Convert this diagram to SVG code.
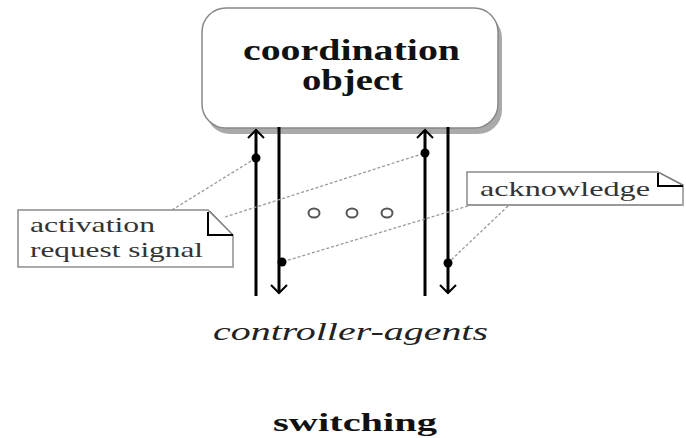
<svg xmlns="http://www.w3.org/2000/svg" width="686" height="438" viewBox="0 0 686 438">
<style>
.bold{font-weight:bold;fill:#111}
.lbl{fill:#333}
.ital{font-style:italic;fill:#222}
.flow{stroke:#000;stroke-width:3;fill:none}
.lead{stroke:#9a9a9a;stroke-width:1.3;stroke-dasharray:3 2;fill:none}
.note{fill:#fff;stroke:#8a8a8a;stroke-width:1.5}
.fold{fill:none;stroke:#000;stroke-width:2}
.foldd{fill:none;stroke:#777;stroke-width:1}
.dot{fill:#000}
.circ{fill:none;stroke:#555;stroke-width:2}
</style>
<defs>
<marker id="chev" viewBox="-12 -12 24 24" markerUnits="userSpaceOnUse" markerWidth="24" markerHeight="24" refX="0" refY="0" orient="auto">
<path d="M -8 -8 L 0 0 L -8 8" fill="none" stroke="#000" stroke-width="2"/>
</marker>
</defs>
<rect width="686" height="438" fill="#fff"/>
<g id="coordination-object" font-family="Liberation Serif, DejaVu Serif, serif">
<rect x="206" y="14" width="296" height="120" rx="24" fill="#aaa"/>
<rect x="202" y="8" width="296" height="120" rx="24" fill="#fff" stroke="#888" stroke-width="1.5"/>
<text class="bold" x="243" y="60" font-size="30" textLength="217" lengthAdjust="spacingAndGlyphs">coordination</text>
<text class="bold" x="302" y="90" font-size="30" textLength="101" lengthAdjust="spacingAndGlyphs">object</text>
</g>
<g id="connectors">
<line class="flow" x1="256" y1="296" x2="256" y2="130" marker-end="url(#chev)"/>
<line class="flow" x1="279" y1="127" x2="279" y2="293" marker-end="url(#chev)"/>
<line class="flow" x1="425" y1="296" x2="425" y2="130" marker-end="url(#chev)"/>
<line class="flow" x1="448" y1="127" x2="448" y2="293" marker-end="url(#chev)"/>
<line class="lead" x1="172" y1="210" x2="256" y2="158"/>
<line class="lead" x1="225" y1="217" x2="425" y2="153"/>
<line class="lead" x1="468" y1="206" x2="282" y2="262"/>
<line class="lead" x1="508" y1="206" x2="448" y2="263"/>
<circle class="dot" cx="256" cy="158" r="4.5"/>
<circle class="dot" cx="425" cy="153" r="4.5"/>
<circle class="dot" cx="282" cy="262" r="4.5"/>
<circle class="dot" cx="448" cy="263" r="4.5"/>
</g>
<g id="ellipsis">
<ellipse class="circ" cx="314" cy="213" rx="5.5" ry="4.5"/>
<ellipse class="circ" cx="352" cy="213" rx="5.5" ry="4.5"/>
<ellipse class="circ" cx="387" cy="213" rx="5.5" ry="4.5"/>
</g>
<g id="note-activation" font-family="Liberation Serif, DejaVu Serif, serif">
<path class="note" d="M 18 210 L 208 210 L 233 235 L 233 267 L 18 267 Z"/>
<line x1="233" y1="236" x2="233" y2="268" stroke="#aaa" stroke-width="2"/>
<line x1="19" y1="267" x2="234" y2="267" stroke="#aaa" stroke-width="2"/>
<path class="fold" d="M 208 212 L 208 235 L 233 235"/>
<line class="foldd" x1="210" y1="211" x2="232" y2="234"/>
<text class="lbl" x="30" y="232" font-size="22" textLength="125" lengthAdjust="spacingAndGlyphs">activation</text>
<text class="lbl" x="30" y="257" font-size="22" textLength="173" lengthAdjust="spacingAndGlyphs">request signal</text>
</g>
<g id="note-acknowledge" font-family="Liberation Serif, DejaVu Serif, serif">
<path class="note" d="M 467 172 L 658 172 L 683 185 L 683 205 L 467 205 Z"/>
<line x1="468" y1="205" x2="684" y2="205" stroke="#999" stroke-width="2"/>
<line x1="683" y1="186" x2="683" y2="206" stroke="#aaa" stroke-width="2"/>
<path class="fold" d="M 658 173 L 658 186 L 683 186"/>
<line class="foldd" x1="660" y1="173" x2="682" y2="185"/>
<text class="lbl" x="480" y="196" font-size="22" textLength="170" lengthAdjust="spacingAndGlyphs">acknowledge</text>
</g>
<g id="controller-agents" font-family="Liberation Serif, DejaVu Serif, serif">
<text class="ital" x="213" y="340" font-size="26" textLength="275" lengthAdjust="spacingAndGlyphs">controller-agents</text>
</g>
<g id="switching" font-family="Liberation Serif, DejaVu Serif, serif">
<text class="bold" x="273" y="431" font-size="25" textLength="164" lengthAdjust="spacingAndGlyphs">switching</text>
</g>
</svg>
